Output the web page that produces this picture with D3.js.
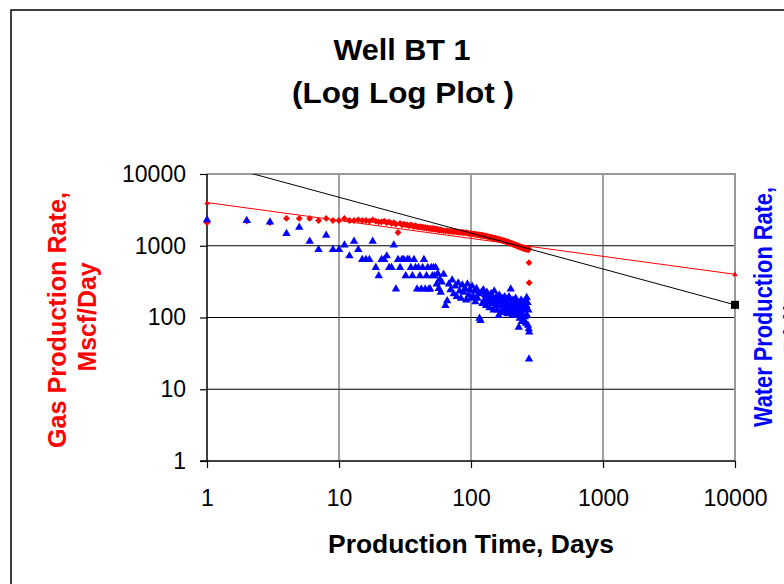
<!DOCTYPE html>
<html>
<head>
<meta charset="utf-8">
<script src="https://cdn.jsdelivr.net/npm/d3@7"></script>
<style>
  body { margin: 0; background: #fff; }
  svg { display: block; font-family: "Liberation Sans", Arial, sans-serif; }
</style>
</head>
<body>
<div id="chart"></div>
<script>
// Well BT 1 - gas and water rates vs production time (log-log)

// production days (daily to day 60, then every 2nd day)
const days = [
  1, 2, 3, 4, 5, 6, 7, 8, 9, 10, 11, 12, 13, 14, 15, 16, 17, 18, 19, 20,
  21, 22, 23, 24, 25, 26, 27, 28, 29, 30, 31, 32, 33, 34, 35, 36, 37, 38, 39, 40,
  41, 42, 43, 44, 45, 46, 47, 48, 49, 50, 51, 52, 53, 54, 55, 56, 57, 58, 59, 60,
  62, 64, 66, 68, 70, 72, 74, 76, 78, 80, 82, 84, 86, 88, 90, 92, 94, 96, 98, 100,
  102, 104, 106, 108, 110, 112, 114, 116, 118, 120, 122, 124, 126, 128, 130, 132, 134, 136, 138, 140,
  142, 144, 146, 148, 150, 152, 154, 156, 158, 160, 162, 164, 166, 168, 170, 172, 174, 176, 178, 180,
  182, 184, 186, 188, 190, 192, 194, 196, 198, 200, 202, 204, 206, 208, 210, 212, 214, 216, 218, 220,
  222, 224, 226, 228, 230, 232, 234, 236, 238, 240, 242, 244, 246, 248, 250, 252, 254, 256, 258, 260,
  262, 264, 266, 268, 270, 272, 274, 275, 276
];

// gas rate, Mscf/day
const gasRate = [
  2100, 2200, 2100, 2400, 2400, 2400, 2250, 2400, 2250, 2250, 2400, 2250, 2250, 2300, 2250, 2250, 2200, 2300, 2200, 2150,
  2150, 2200, 2100, 2150, 2050, 2100, 2000, 1530, 2050, 1950, 2000, 1950, 1950, 1900, 1950, 1900, 1850, 1900, 1850, 1820,
  1850, 1800, 1820, 1780, 1800, 1760, 1780, 1740, 1750, 1720, 1740, 1700, 1720, 1690, 1700, 1670, 1680, 1650, 1660, 1640,
  1630, 1610, 1620, 1590, 1600, 1580, 1570, 1580, 1560, 1550, 1540, 1550, 1530, 1520, 1510, 1520, 1500, 1490, 1480, 1470,
  1460, 1450, 1460, 1440, 1430, 1420, 1430, 1410, 1400, 1390, 1400, 1380, 1370, 1360, 1370, 1350, 1340, 1330, 1320, 1310,
  1300, 1310, 1290, 1280, 1270, 1280, 1260, 1250, 1240, 1250, 1230, 1220, 1210, 1220, 1200, 1190, 1180, 1170, 1180, 1160,
  1150, 1140, 1150, 1130, 1120, 1110, 1120, 1100, 1090, 1080, 1090, 1070, 1060, 1050, 1060, 1040, 1030, 1020, 1030, 1010,
  1000, 1010, 990, 980, 990, 970, 960, 970, 950, 960, 940, 950, 930, 940, 920, 930, 910, 920, 900, 910,
  930, 900, 920, 890, 910, 880, 900, 580, 305
];

// water rate
const waterRate = [
  2360, 2300, 2200, 1520, 1850, 1180, 910, 1430, 910, 910, 1050, 740, 1180, 910, 660, 660, 660, 1180, 510, 390,
  660, 660, 740, 510, 510, 1050, 255, 660, 510, 660, 660, 390, 660, 660, 510, 390, 660, 510, 255, 510,
  390, 255, 510, 660, 255, 390, 510, 255, 255, 510, 390, 510, 390, 510, 300, 420, 260, 350, 230, 320,
  410, 150, 175, 300, 250, 340, 220, 280, 200, 310, 240, 190, 290, 230, 260, 180, 300, 210, 250, 190,
  280, 200, 240, 170, 260, 190, 220, 100, 93, 230, 160, 250, 180, 210, 150, 230, 170, 200, 140, 190,
  220, 160, 190, 130, 240, 170, 150, 200, 130, 180, 109, 210, 150, 170, 125, 190, 140, 160, 120, 200,
  150, 130, 180, 115, 160, 140, 200, 120, 170, 255, 130, 150, 110, 180, 140, 125, 160, 115, 190, 135,
  150, 110, 170, 130, 75, 145, 100, 160, 120, 180, 90, 140, 110, 155, 95, 130, 170, 105, 140, 85,
  150, 195, 110, 165, 80, 130, 71, 27, 64
];

// straight-line declines drawn across the plot
const gasTrend = [[1, 4000], [10000, 400]];
const blackTrend = [[1, 15000], [10000, 150]];

const xTicks = [1, 10, 100, 1000, 10000];
const yTicks = [1, 10, 100, 1000, 10000];

const width = 784, height = 584;
const plot = { left: 207, right: 735, top: 174, bottom: 461 };

const svg = d3.select("#chart")
  .append("svg")
  .attr("width", width)
  .attr("height", height);

// outer chart frame (runs off the picture on the right and bottom)
svg.append("rect")
  .attr("x", 11).attr("y", 10)
  .attr("width", 820).attr("height", 620)
  .attr("fill", "none")
  .attr("stroke", "#000")
  .attr("stroke-width", 1.5);

const xScale = d3.scaleLog().domain([1, 10000]).range([plot.left, plot.right]);
const yScale = d3.scaleLog().domain([1, 10000]).range([plot.bottom, plot.top]);

// grid
svg.append("g")
  .selectAll("line")
  .data(yTicks.slice(1, -1))
  .join("line")
  .attr("x1", plot.left).attr("x2", plot.right)
  .attr("y1", d => yScale(d)).attr("y2", d => yScale(d))
  .attr("stroke", "#000").attr("stroke-width", 1);

svg.append("g")
  .selectAll("line")
  .data(xTicks.slice(1, -1))
  .join("line")
  .attr("x1", d => xScale(d)).attr("x2", d => xScale(d))
  .attr("y1", plot.top).attr("y2", plot.bottom)
  .attr("stroke", "#444").attr("stroke-width", 1);

// top and right plot border (grey)
svg.append("path")
  .attr("d", `M${plot.left},${plot.top}H${plot.right}V${plot.bottom}`)
  .attr("fill", "none")
  .attr("stroke", "#999")
  .attr("stroke-width", 2);

// axes
const fmt = d3.format("d");

const yAxis = svg.append("g")
  .attr("transform", `translate(${plot.left},0)`)
  .call(d3.axisLeft(yScale).tickValues(yTicks).tickFormat(fmt).tickSize(7).tickPadding(14).tickSizeOuter(0));

const xAxis = svg.append("g")
  .attr("transform", `translate(0,${plot.bottom})`)
  .call(d3.axisBottom(xScale).tickValues(xTicks).tickFormat(fmt).tickSize(7).tickPadding(22).tickSizeOuter(0));

[yAxis, xAxis].forEach(g => {
  g.select(".domain").attr("stroke", "#000").attr("stroke-width", 1.5);
  g.selectAll(".tick line").attr("stroke", "#000").attr("stroke-width", 1.2);
  g.selectAll(".tick text")
    .attr("fill", "#000")
    .style("font-size", "23px")
    .style("font-family", "'Liberation Sans', Arial, sans-serif");
});
yAxis.select(".domain").attr("d", `M0,${plot.top}V${plot.bottom}`);
xAxis.select(".domain").attr("d", `M${plot.left - 7},0H${plot.right}`);

// clip lines to plot area
svg.append("clipPath").attr("id", "plot-clip")
  .append("rect")
  .attr("x", plot.left).attr("y", plot.top)
  .attr("width", plot.right - plot.left).attr("height", plot.bottom - plot.top);

const line = d3.line().x(d => xScale(d[0])).y(d => yScale(d[1]));

// data points
const diamond = "M0,-3.4L3.4,0L0,3.4L-3.4,0Z";
const triangle = "M0,-4L4.2,3.2L-4.2,3.2Z";

svg.append("g")
  .selectAll("path")
  .data(days.map((d, i) => [d, gasRate[i]]))
  .join("path")
  .attr("transform", d => `translate(${xScale(d[0])},${yScale(d[1])})`)
  .attr("d", diamond)
  .attr("fill", "#ff0000");

svg.append("g")
  .selectAll("path")
  .data(days.map((d, i) => [d, waterRate[i]]))
  .join("path")
  .attr("transform", d => `translate(${xScale(d[0])},${yScale(d[1])})`)
  .attr("d", triangle)
  .attr("fill", "#0000ff");

// trend lines
svg.append("path")
  .datum(gasTrend)
  .attr("clip-path", "url(#plot-clip)")
  .attr("d", line)
  .attr("fill", "none")
  .attr("stroke", "#ff0000")
  .attr("stroke-width", 1);

svg.append("g")
  .selectAll("path")
  .data(gasTrend)
  .join("path")
  .attr("transform", d => `translate(${xScale(d[0])},${yScale(d[1])})`)
  .attr("d", "M0,-2.8L2.8,2L-2.8,2Z")
  .attr("fill", "#ff0000");

svg.append("path")
  .datum(blackTrend)
  .attr("clip-path", "url(#plot-clip)")
  .attr("d", line)
  .attr("fill", "none")
  .attr("stroke", "#000")
  .attr("stroke-width", 1);

svg.append("rect")
  .datum(blackTrend[1])
  .attr("x", d => xScale(d[0]) - 4)
  .attr("y", d => yScale(d[1]) - 4)
  .attr("width", 8).attr("height", 8)
  .attr("fill", "#000");

// titles
const title = svg.append("g")
  .attr("font-weight", "bold")
  .attr("font-size", "30px")
  .attr("text-anchor", "middle")
  .attr("fill", "#000");
title.append("text").attr("x", 402).attr("y", 60)
  .attr("textLength", 137).attr("lengthAdjust", "spacingAndGlyphs")
  .text("Well BT 1");
title.append("text").attr("x", 403).attr("y", 103)
  .attr("textLength", 222).attr("lengthAdjust", "spacingAndGlyphs")
  .text("(Log Log Plot )");

svg.append("text")
  .attr("x", (plot.left + plot.right) / 2)
  .attr("y", 553)
  .attr("text-anchor", "middle")
  .attr("font-weight", "bold")
  .attr("font-size", "25px")
  .attr("textLength", 286).attr("lengthAdjust", "spacingAndGlyphs")
  .text("Production Time, Days");

// left axis title (red, two lines)
const gasLabel = svg.append("g")
  .attr("fill", "#ff0000")
  .attr("font-weight", "bold")
  .attr("font-size", "25px")
  .attr("text-anchor", "middle");
gasLabel.append("text")
  .attr("transform", "translate(66,320) rotate(-90)")
  .attr("textLength", 256).attr("lengthAdjust", "spacingAndGlyphs")
  .text("Gas Production Rate,");
gasLabel.append("text")
  .attr("transform", "translate(96,317) rotate(-90)")
  .attr("textLength", 109).attr("lengthAdjust", "spacingAndGlyphs")
  .text("Mscf/Day");

// right axis title (blue, second line mostly off the picture)
const waterLabel = svg.append("g")
  .attr("fill", "#0000ff")
  .attr("font-weight", "bold")
  .attr("font-size", "25px")
  .attr("text-anchor", "middle");
waterLabel.append("text")
  .attr("transform", "translate(772,307) rotate(-90)")
  .attr("textLength", 240).attr("lengthAdjust", "spacingAndGlyphs")
  .text("Water Production Rate,");
waterLabel.append("text")
  .attr("transform", "translate(802,307) rotate(-90)")
  .text("Bbl/Day");
</script>
</body>
</html>
